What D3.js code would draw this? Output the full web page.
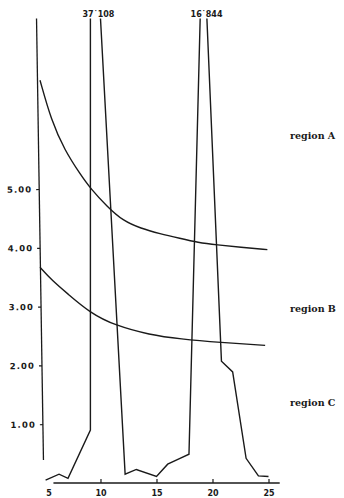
<!DOCTYPE html>
<html><head><meta charset="utf-8">
<script src="https://cdn.jsdelivr.net/npm/d3@7"></script>
<style>
html,body{margin:0;padding:0;background:#fff;}
svg{display:block;}
</style></head>
<body>
<script>
// ---- data ----
const seriesNames = ["region A", "region B", "region C"];
const labelLevels = [5.9, 2.96, 1.36];          // where each series name sits (value units)

const curveAX = [4.6, 5.6, 6.8, 8.2, 9.1, 10.6, 12.0, 13.6, 15.3, 17.1, 18.7, 20.4, 22.5, 24.9];
const curveAY = [6.85, 6.17, 5.66, 5.25, 5.01, 4.70, 4.46, 4.33, 4.24, 4.16, 4.09, 4.05, 4.01, 3.97];

const curveBX = [4.6, 5.7, 7.0, 9.1, 11.3, 14.4, 17.1, 20.7, 24.7];
const curveBY = [3.67, 3.44, 3.23, 2.89, 2.68, 2.52, 2.45, 2.39, 2.34];

const spectrumX = [5.1, 6.3, 7.1, 9.1, 9.1, 10.0, 12.2, 13.2, 15.0, 16.0, 17.1, 17.9, 18.9, 19.5, 20.8, 21.8, 23.0, 24.1, 25.0];
const spectrumY = [0.05, 0.15, 0.08, 0.90, 37.108, 37.108, 0.15, 0.23, 0.11, 0.32, 0.42, 0.49, 16.844, 16.844, 2.07, 1.89, 0.42, 0.12, 0.11];
const peakLabels = ["37˙108", "16˙844"];

const xTicks = [5, 10, 15, 20, 25];
const yTicks = [1, 2, 3, 4, 5];

// ---- drawing ----
const W = 344, H = 498;
const ink = "#1a1a1a";
const svg = d3.select("body").append("svg").attr("width", W).attr("height", H);

const x = d3.scaleLinear().domain([4.6, 26]).range([40, 279.7]);
const yMax = 7.9;
const y = d3.scaleLinear().domain([0, yMax]).range([483, 18.5]).clamp(true);

// y axis (hand drawn, slightly slanted)
const yAxisG = svg.append("g")
  .attr("transform", `rotate(-0.9, ${x(4.6)}, 240) translate(${x(4.6)},0)`);
yAxisG.call(d3.axisLeft(y).tickValues(yTicks).tickFormat(d3.format(".2f")).tickSize(3).tickPadding(4).tickSizeOuter(0));
yAxisG.select(".domain").remove();
yAxisG.append("line").attr("x1", 0).attr("x2", 0).attr("y1", y(7.93)).attr("y2", y(0.39))
  .attr("stroke", ink).attr("stroke-width", 1.3);
yAxisG.selectAll(".tick line").attr("stroke", ink).attr("stroke-width", 1.2);
yAxisG.selectAll(".tick text")
  .attr("font-family", "DejaVu Sans").attr("font-weight", "bold").attr("font-size", 8.5)
  .attr("letter-spacing", 1.1).attr("fill", ink);

// x axis
const xAxisG = svg.append("g").attr("transform", `translate(0,${y(0)})`);
xAxisG.call(d3.axisBottom(x).tickValues(xTicks).tickFormat(d3.format("d")).tickSizeInner(-4).tickSizeOuter(0).tickPadding(7));
xAxisG.select(".domain").remove();
xAxisG.append("line").attr("x1", x(5.8)).attr("x2", x(26)).attr("y1", 0).attr("y2", 0)
  .attr("stroke", ink).attr("stroke-width", 1.3);
xAxisG.selectAll(".tick").filter(d => d === 5).select("line").remove();
xAxisG.selectAll(".tick line").attr("stroke", ink).attr("stroke-width", 1.2);
xAxisG.selectAll(".tick text")
  .attr("font-family", "DejaVu Sans").attr("font-weight", "bold").attr("font-size", 8)
  .attr("fill", ink);
xAxisG.selectAll(".tick").filter(d => d === 5).select("text").attr("dx", 4);

// smooth curves A and B
const smooth = d3.line().x(d => x(d[0])).y(d => y(d[1])).curve(d3.curveBasis);
svg.append("path").datum(d3.zip(curveAX, curveAY)).attr("d", smooth)
  .attr("fill", "none").attr("stroke", ink).attr("stroke-width", 1.4);
svg.append("path").datum(d3.zip(curveBX, curveBY)).attr("d", smooth)
  .attr("fill", "none").attr("stroke", ink).attr("stroke-width", 1.4);

// spectrum (region C) — peaks above the frame are truncated, open at the top
const pts = d3.zip(spectrumX, spectrumY);
const segs = [];
for (let i = 0; i < pts.length - 1; i++) {
  const a = pts[i], b = pts[i + 1];
  if (a[1] > yMax && b[1] > yMax) continue;
  segs.push([a, b]);
}
const straight = d3.line().x(d => x(d[0])).y(d => y(d[1]));
const polys = [];
segs.forEach(s => {
  const last = polys[polys.length - 1];
  if (last && last[last.length - 1] === s[0]) last.push(s[1]);
  else polys.push([s[0], s[1]]);
});
svg.selectAll("path.spec").data(polys).join("path").attr("class", "spec")
  .attr("d", straight).attr("fill", "none").attr("stroke", ink)
  .attr("stroke-width", 1.4).attr("stroke-linejoin", "miter");

// peak value labels
const peaks = [];
for (let i = 0; i < pts.length - 1; i++) {
  if (pts[i][1] > yMax && pts[i + 1][1] > yMax) peaks.push((pts[i][0] + pts[i + 1][0]) / 2);
}
svg.selectAll("text.peak").data(peaks).join("text").attr("class", "peak")
  .attr("x", d => x(d) + 3).attr("y", 17)
  .attr("text-anchor", "middle")
  .attr("font-family", "DejaVu Sans").attr("font-weight", "bold").attr("font-size", 8)
  .attr("fill", ink)
  .text((d, i) => peakLabels[i]);

// series names
svg.selectAll("text.series").data(seriesNames).join("text").attr("class", "series")
  .attr("x", 290).attr("y", (d, i) => y(labelLevels[i]) + 3)
  .attr("font-family", "DejaVu Serif").attr("font-weight", "bold").attr("font-size", 9.5)
  .attr("fill", ink)
  .text(d => d);
</script>
</body></html>
